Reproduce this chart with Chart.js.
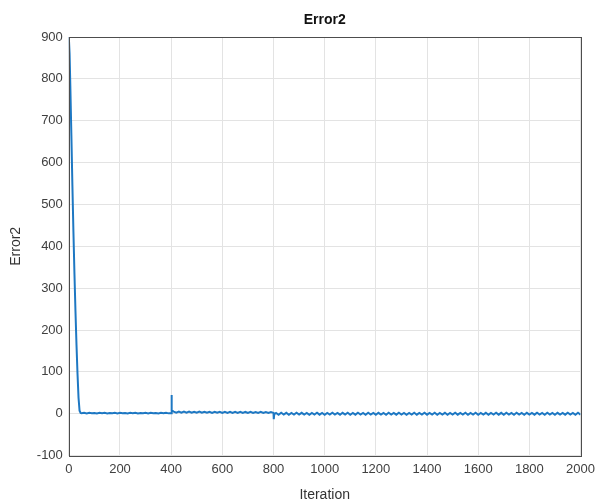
<!DOCTYPE html>
<html>
<head>
<meta charset="utf-8">
<title>Error2</title>
<script src="https://cdn.jsdelivr.net/npm/chart.js@4.4.1/dist/chart.umd.min.js"></script>
<style>
  html, body { margin: 0; padding: 0; background: #fff; }
  #wrap { width: 601px; height: 504px; position: relative; }
</style>
</head>
<body>
<div id="wrap"><canvas id="errChart"></canvas></div>
<script>
// Data
// first drop from 900 down to ~0
const decayIter = [0, 3, 6, 10, 14, 18, 22, 26, 30, 34, 38, 42, 46];
const decayErr  = [900, 860, 780, 665, 545, 435, 335, 245, 165, 95, 38, 7, 2];

// the two jumps (restart at 400, small dip at 800)
const jumpIter = [401, 403, 801, 803];
const jumpErr  = [45, 8, -13, -1];

// noisy tail, one value every 10 iterations from 50 to 2000
const tailStart = 50;
const tailStep = 10;
const tailErr = [
  // 50 - 390
  1.0, 2.1, 0.9, 2.2, 1.1, 2.0, 0.8, 2.2, 1.0, 2.1,
  0.9, 2.0, 1.1, 2.2, 0.8, 2.1, 1.0, 2.0, 0.9, 2.2,
  1.1, 2.1, 0.8, 2.0, 1.0, 2.2, 0.9, 2.1, 1.1, 2.0,
  0.8, 2.2, 1.0, 2.1, 0.9,
  // 400 - 790
  1.0,
  5.0, 2.7, 5.1, 2.5, 4.9, 2.6, 5.0, 2.4, 4.8, 2.5,
  4.9, 2.3, 4.7, 2.4, 4.8, 2.2, 4.6, 2.3, 4.7, 2.1,
  4.5, 2.2, 4.6, 2.0, 4.4, 2.1, 4.5, 1.9, 4.3, 2.0,
  4.4, 1.8, 4.2, 1.9, 4.3, 1.7, 4.1, 1.8, 4.2,
  // 800 - 2000
  2.0,
  2.1, -2.3, 2.4, -1.9, 2.2, -2.4, 1.8, -2.1, 2.3, -2.0,
  2.2, -2.1, 1.9, -2.5, 2.1, -1.8, 2.4, -2.2, 2.0, -2.3,
  2.1, -1.9, 2.5, -2.1, 1.8, -2.3, 2.2, -2.0, 2.3, -2.4,
  1.9, -2.2, 2.3, -1.8, 2.1, -2.5, 2.4, -2.1, 1.8, -2.3,
  2.2, -2.1, 2.0, -2.3, 2.5, -1.9, 2.1, -2.2, 2.3, -2.0,
  2.1, -2.4, 1.9, -2.1, 2.3, -2.3, 1.8, -2.1, 2.4, -2.2,
  2.1, -2.0, 2.3, -2.5, 2.0, -1.9, 2.2, -2.3, 2.1, -2.1,
  2.5, -2.2, 1.9, -2.1, 2.3, -2.4, 2.1, -1.8, 2.3, -2.3,
  2.0, -2.1, 2.2, -2.3, 1.8, -2.0, 2.4, -2.2, 2.1, -2.5,
  2.3, -1.9, 2.1, -2.3, 2.3, -2.1, 1.9, -2.4, 2.2, -2.1,
  2.1, -2.2, 2.4, -2.0, 2.0, -2.3, 2.3, -2.1, 2.1, -2.3,
  2.2, -2.1, 1.9, -2.2, 2.3, -2.0, 2.1, -2.4, 2.3, -2.1
];

const xTicks = [0, 200, 400, 600, 800, 1000, 1200, 1400, 1600, 1800, 2000];
const yTicks = [-100, 0, 100, 200, 300, 400, 500, 600, 700, 800, 900];
const chartTitle = 'Error2';

// build {x,y} points
let points = [];
decayIter.forEach((it, i) => points.push({ x: it, y: decayErr[i] }));
tailErr.forEach((v, i) => points.push({ x: tailStart + i * tailStep, y: v }));
jumpIter.forEach((it, i) => points.push({ x: it, y: jumpErr[i] }));
points.sort((a, b) => a.x - b.x);

const fontFam = '"Liberation Sans", Arial, sans-serif';

// box around the plot + title centred over the plot (matlab style)
const boxPlugin = {
  id: 'box',
  afterDraw(chart) {
    const { ctx, chartArea: a } = chart;
    ctx.save();
    ctx.strokeStyle = '#4d4d4d';
    ctx.lineWidth = 1;
    ctx.strokeRect(Math.round(a.left) + 0.5, Math.round(a.top) + 0.5,
      Math.round(a.right - a.left), Math.round(a.bottom - a.top));

    ctx.fillStyle = '#111';
    ctx.font = 'bold 14px ' + fontFam;
    ctx.textAlign = 'center';
    ctx.textBaseline = 'middle';
    ctx.fillText(chartTitle, (a.left + a.right) / 2, a.top - 17);
    ctx.restore();
  }
};

new Chart(document.getElementById('errChart'), {
  type: 'line',
  data: {
    datasets: [{
      label: 'Error2',
      data: points,
      borderColor: 'rgb(30, 120, 195)',
      borderWidth: 2,
      pointRadius: 0,
      tension: 0
    }]
  },
  options: {
    responsive: true,
    maintainAspectRatio: false,
    animation: false,
    layout: { padding: { left: 8, right: 17, top: 37, bottom: 0 } },
    plugins: {
      legend: { display: false },
      tooltip: { enabled: false },
      title: { display: false }
    },
    scales: {
      x: {
        type: 'linear',
        min: 0,
        max: 2000,
        afterBuildTicks: axis => { axis.ticks = xTicks.map(v => ({ value: v })); },
        grid: { color: '#e3e3e3', drawTicks: false },
        border: { display: false },
        ticks: {
          color: '#404040', font: { family: fontFam, size: 13 }, padding: 6, maxRotation: 0,
          callback: v => String(v)
        },
        title: { display: true, text: 'Iteration', color: '#333', font: { family: fontFam, size: 14 }, padding: { top: 4, bottom: 0 } }
      },
      y: {
        min: -100,
        max: 900,
        afterBuildTicks: axis => { axis.ticks = yTicks.map(v => ({ value: v })); },
        grid: { color: '#e3e3e3', drawTicks: false },
        border: { display: false },
        ticks: { color: '#404040', font: { family: fontFam, size: 13 }, padding: 6, callback: v => String(v) },
        title: { display: true, text: 'Error2', color: '#333', font: { family: fontFam, size: 14 }, padding: { top: 0, bottom: 6 } }
      }
    }
  },
  plugins: [boxPlugin]
});
</script>
</body>
</html>
